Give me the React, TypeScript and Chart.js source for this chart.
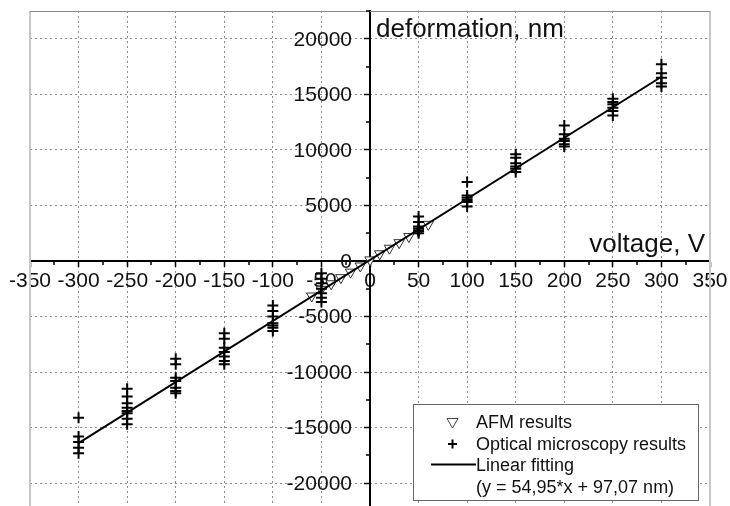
import React, { useEffect, useRef } from 'react';
import { Chart, registerables } from 'chart.js';

Chart.register(...registerables);

// ---- axis ranges / ticks ----
const xMin = -350;
const xMax = 350;
const yMin = -22500;
const yMax = 22500;
const xTickValues = [-350, -300, -250, -200, -150, -100, -50, 0, 50, 100, 150, 200, 250, 300, 350];
const xMinorTickValues = [-325, -275, -225, -175, -125, -75, -25, 25, 75, 125, 175, 225, 275, 325];
const yTickValues = [-20000, -15000, -10000, -5000, 0, 5000, 10000, 15000, 20000];
const yMinorTickValues = [-22500, -17500, -12500, -7500, -2500, 2500, 7500, 12500, 17500, 22500];

// ---- AFM results (open down triangles) ----
const afmVoltage = [-60, -50, -40, -30, -20, -10, 0, 10, 20, 30, 40, 50, 60];
const afmDeformation = [-3150, -2550, -2050, -1500, -1000, -450, 100, 650, 1150, 1650, 2200, 2700, 3300];

// ---- Optical microscopy results (crosses) ----
const opticalVoltage = [-300, -250, -200, -150, -100, -50, 50, 100, 150, 200, 250, 300];
const opticalM300 = [-14100, -15800, -16300, -16800, -17300];
const opticalM250 = [-11500, -12200, -12800, -13200, -13500, -13700, -14200, -14700];
const opticalM200 = [-8800, -9300, -10500, -10800, -11400, -11700, -11900];
const opticalM150 = [-6500, -7000, -7800, -8200, -8600, -9000, -9300];
const opticalM100 = [-4000, -4500, -5000, -5600, -5800, -6000, -6300];
const opticalM50 = [-1100, -1600, -2000, -2500, -2900, -3300, -3700];
const opticalP50 = [4000, 3500, 3100, 2900, 2700, 2500];
const opticalP100 = [7100, 5900, 5700, 5500, 5300, 4900];
const opticalP150 = [9600, 9300, 8800, 8500, 8300, 8000];
const opticalP200 = [12200, 11400, 11000, 10800, 10500, 10300];
const opticalP250 = [14600, 14300, 14100, 13800, 13500, 13100];
const opticalP300 = [17700, 16900, 16500, 16000, 15700];
const opticalGroups = [
  opticalM300, opticalM250, opticalM200, opticalM150, opticalM100, opticalM50,
  opticalP50, opticalP100, opticalP150, opticalP200, opticalP250, opticalP300,
];

// ---- Linear fitting (y = 54,95*x + 97,07 nm) ----
const fitVoltage = [-300, 300];
const fitDeformation = [-16388, 16582];

// ---- texts ----
const xTitle = 'voltage, V';
const yTitle = 'deformation, nm';
const legendLabels = ['AFM results', 'Optical microscopy results', 'Linear fitting', '(y = 54,95*x + 97,07 nm)'];

const FONT = "'Liberation Sans', Arial, Helvetica, sans-serif";

const decorPlugin = {
  id: 'decor',
  beforeDraw(chart: any) {
    const { ctx } = chart;
    ctx.save();
    ctx.fillStyle = '#ffffff';
    ctx.fillRect(0, 0, chart.width, chart.height);
    ctx.restore();
  },
  beforeDatasetsDraw(chart: any) {
    const { ctx, chartArea, scales } = chart;
    const x = scales.x;
    const y = scales.y;
    const x0 = x.getPixelForValue(0);
    const y0 = y.getPixelForValue(0);
    ctx.save();
    // frame
    ctx.strokeStyle = '#c8c8c8';
    ctx.lineWidth = 2;
    ctx.beginPath();
    ctx.moveTo(chartArea.left, chartArea.top);
    ctx.lineTo(chartArea.left, chartArea.bottom);
    ctx.moveTo(chartArea.right, chartArea.top);
    ctx.lineTo(chartArea.right, chartArea.bottom);
    ctx.stroke();
    ctx.strokeStyle = '#8a8a8a';
    ctx.lineWidth = 1;
    ctx.beginPath();
    ctx.moveTo(chartArea.left, chartArea.top + 0.5);
    ctx.lineTo(chartArea.right, chartArea.top + 0.5);
    ctx.stroke();
    // minor ticks
    ctx.strokeStyle = '#000';
    ctx.lineWidth = 1.5;
    ctx.beginPath();
    xMinorTickValues.forEach((v) => {
      const px = Math.round(x.getPixelForValue(v));
      ctx.moveTo(px, y0);
      ctx.lineTo(px, y0 + 4);
    });
    yMinorTickValues.forEach((v) => {
      const py = Math.round(y.getPixelForValue(v));
      ctx.moveTo(x0, py);
      ctx.lineTo(x0 - 4, py);
    });
    ctx.stroke();
    // y tick labels (left of the centred y axis)
    ctx.fillStyle = '#111';
    ctx.font = `21px ${FONT}`;
    ctx.textAlign = 'right';
    ctx.textBaseline = 'middle';
    y.ticks.forEach((t: any) => {
      ctx.fillText(String(t.value), x0 - 18, y.getPixelForValue(t.value) + 1);
    });
    // axis titles
    ctx.font = `26px ${FONT}`;
    ctx.textBaseline = 'alphabetic';
    ctx.textAlign = 'left';
    ctx.fillText(yTitle, x0 + 6, chartArea.top + 26);
    ctx.textAlign = 'right';
    ctx.fillText(xTitle, chartArea.right - 5, y0 - 9);
    ctx.restore();
  },
  afterDatasetsDraw(chart: any) {
    const { ctx } = chart;
    ctx.save();
    // legend box
    const bx = 413, by = 404, bw = 285, bh = 96;
    ctx.fillStyle = '#ffffff';
    ctx.fillRect(bx, by, bw, bh);
    ctx.strokeStyle = '#666';
    ctx.lineWidth = 1;
    ctx.strokeRect(bx + 0.5, by + 0.5, bw, bh);
    // triangle marker
    const mx = 452.5;
    ctx.strokeStyle = '#444';
    ctx.lineWidth = 1;
    ctx.beginPath();
    ctx.moveTo(mx - 5.5, 418.5);
    ctx.lineTo(mx + 5.5, 418.5);
    ctx.lineTo(mx, 428);
    ctx.closePath();
    ctx.stroke();
    // cross marker
    ctx.strokeStyle = '#000';
    ctx.lineWidth = 2;
    ctx.beginPath();
    ctx.moveTo(mx - 4.5, 444);
    ctx.lineTo(mx + 4.5, 444);
    ctx.moveTo(mx, 439.5);
    ctx.lineTo(mx, 448.5);
    ctx.stroke();
    // line marker
    ctx.beginPath();
    ctx.moveTo(431, 464.5);
    ctx.lineTo(476, 464.5);
    ctx.stroke();
    // texts
    ctx.fillStyle = '#111';
    ctx.font = `18px ${FONT}`;
    ctx.textAlign = 'left';
    ctx.textBaseline = 'alphabetic';
    const baselines = [428, 449.5, 471, 492.5];
    legendLabels.forEach((t, i) => ctx.fillText(t, 476, baselines[i]));
    ctx.restore();
  },
};

function App() {
  const ref = useRef<HTMLCanvasElement | null>(null);
  useEffect(() => {
    if (!ref.current) return;
    Chart.defaults.font.family = FONT;
    const opticalPoints: { x: number; y: number }[] = [];
    opticalVoltage.forEach((v, i) => opticalGroups[i].forEach((d) => opticalPoints.push({ x: v, y: d })));
    const gridColor = (c: any) => {
      const v = c.tick ? c.tick.value : null;
      if (v === 0 || v === xMin || v === xMax || v === yMin || v === yMax) return 'rgba(0,0,0,0)';
      return '#8c8c8c';
    };
    const zeroPad = (s: any) => {
      s.paddingTop = 0;
      s.paddingBottom = 0;
      s.paddingLeft = 0;
      s.paddingRight = 0;
    };
    const chart = new Chart(ref.current, {
      type: 'scatter',
      data: {
        datasets: [
          {
            label: 'Linear fitting',
            type: 'line',
            data: fitVoltage.map((v, i) => ({ x: v, y: fitDeformation[i] })),
            borderColor: '#000',
            borderWidth: 2,
            pointRadius: 0,
            showLine: true,
            fill: false,
            order: 0,
          } as any,
          {
            label: 'Optical microscopy results',
            data: opticalPoints,
            pointStyle: 'cross',
            pointRadius: 5.5,
            borderColor: '#000',
            borderWidth: 2,
            order: 1,
          } as any,
          {
            label: 'AFM results',
            data: afmVoltage.map((v, i) => ({ x: v, y: afmDeformation[i] })),
            pointStyle: 'triangle',
            rotation: 180,
            pointRadius: 6,
            borderColor: '#333',
            backgroundColor: '#fff',
            borderWidth: 1,
            order: 2,
          } as any,
        ],
      },
      options: {
        responsive: false,
        animation: false,
        devicePixelRatio: 1,
        layout: { padding: { left: 30, right: 20, top: 11, bottom: 9 } },
        plugins: { legend: { display: false }, tooltip: { enabled: false } },
        scales: {
          x: {
            type: 'linear',
            min: xMin,
            max: xMax,
            position: { y: 0 } as any,
            afterFit: zeroPad,
            afterBuildTicks: (s: any) => {
              s.ticks = xTickValues.map((v) => ({ value: v }));
            },
            ticks: {
              autoSkip: false,
              maxRotation: 0,
              padding: 3,
              color: '#111',
              font: { size: 21, family: FONT },
              callback: (v: any) => String(v),
            },
            grid: {
              color: gridColor,
              lineWidth: 1,
              drawTicks: true,
              tickLength: 5,
              tickColor: '#000',
              tickWidth: 1.5,
            },
            border: { display: true, color: '#000', width: 2, dash: [2, 3] },
          },
          y: {
            type: 'linear',
            min: yMin,
            max: yMax,
            position: { x: 0 } as any,
            afterFit: zeroPad,
            afterBuildTicks: (s: any) => {
              s.ticks = yTickValues.map((v) => ({ value: v }));
            },
            ticks: {
              autoSkip: false,
              padding: 6,
              color: 'rgba(0,0,0,0)',
              font: { size: 21, family: FONT },
              callback: (v: any) => String(v),
            },
            grid: {
              color: gridColor,
              lineWidth: 1,
              drawTicks: true,
              tickLength: 5,
              tickColor: '#000',
              tickWidth: 1.5,
            },
            border: { display: true, color: '#000', width: 2, dash: [2, 3] },
          },
        },
      },
      plugins: [decorPlugin],
    } as any);
    return () => chart.destroy();
  }, []);
  return (
    <div style={{ position: 'absolute', left: 0, top: 0, width: 730, height: 506, overflow: 'hidden', background: '#fff' }}>
      <canvas ref={ref} width={730} height={520} style={{ width: 730, height: 520, display: 'block' }} />
    </div>
  );
}

export default App;
